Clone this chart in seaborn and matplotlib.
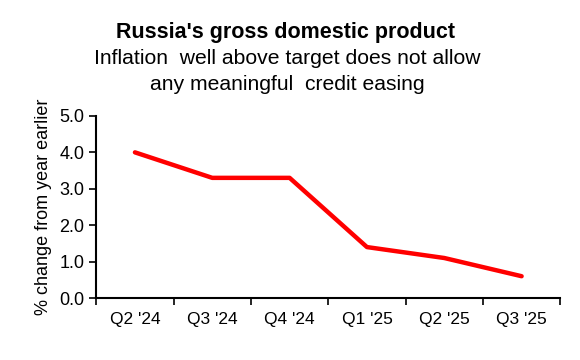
import matplotlib
matplotlib.use('Agg')
import matplotlib.pyplot as plt
import pandas as pd
import seaborn as sns
from matplotlib.ticker import FixedLocator

# data
quarters = ["Q2 '24", "Q3 '24", "Q4 '24", "Q1 '25", "Q2 '25", "Q3 '25"]
gdp_growth = [4.0, 3.3, 3.3, 1.4, 1.1, 0.6]
y_ticks = [0.0, 1.0, 2.0, 3.0, 4.0, 5.0]

df = pd.DataFrame({'pos': range(len(quarters)), 'gdp': gdp_growth})

sns.set_style('white')
plt.rcParams['font.family'] = ['Liberation Sans', 'DejaVu Sans']
plt.rcParams['text.color'] = 'black'
plt.rcParams['axes.labelcolor'] = 'black'
plt.rcParams['xtick.color'] = 'black'
plt.rcParams['ytick.color'] = 'black'

fig = plt.figure(figsize=(5.8, 3.6), dpi=100)
ax = fig.add_axes([0.166, 0.172, 0.80, 0.506])

sns.lineplot(data=df, x='pos', y='gdp', color='#ff0000', linewidth=3.2, ax=ax)

ax.set_xlim(-0.5, len(quarters) - 0.5)
ax.set_ylim(0, 5)
ax.set_xticks(range(len(quarters)))
ax.set_xticklabels(quarters, fontsize=12.5)
ax.xaxis.set_minor_locator(FixedLocator([i - 0.5 for i in range(len(quarters) + 1)]))
ax.tick_params(axis='x', which='major', length=0, pad=10)
ax.tick_params(axis='x', which='minor', length=5, width=1.2, direction='out', color='black', bottom=True)
ax.set_yticks(y_ticks)
ax.set_yticklabels([f'{v:.1f}' for v in y_ticks], fontsize=13)
ax.tick_params(axis='y', length=5, width=1.2, direction='out', color='black', left=True)

ax.set_xlabel('')
ax.set_ylabel('% change from year earlier', fontsize=13, labelpad=5)

sns.despine(ax=ax)
for side in ['left', 'bottom']:
    ax.spines[side].set_color('black')
    ax.spines[side].set_linewidth(1.5)

fig.text(0.492, 0.91, "Russia's gross domestic product", ha='center', va='center',
         fontsize=15.5, fontweight='bold')
fig.text(0.495, 0.838, 'Inflation  well above target does not allow', ha='center', va='center',
         fontsize=15.2)
fig.text(0.495, 0.765, 'any meaningful  credit easing', ha='center', va='center',
         fontsize=15.2)

fig.savefig('out.png', dpi=100)
